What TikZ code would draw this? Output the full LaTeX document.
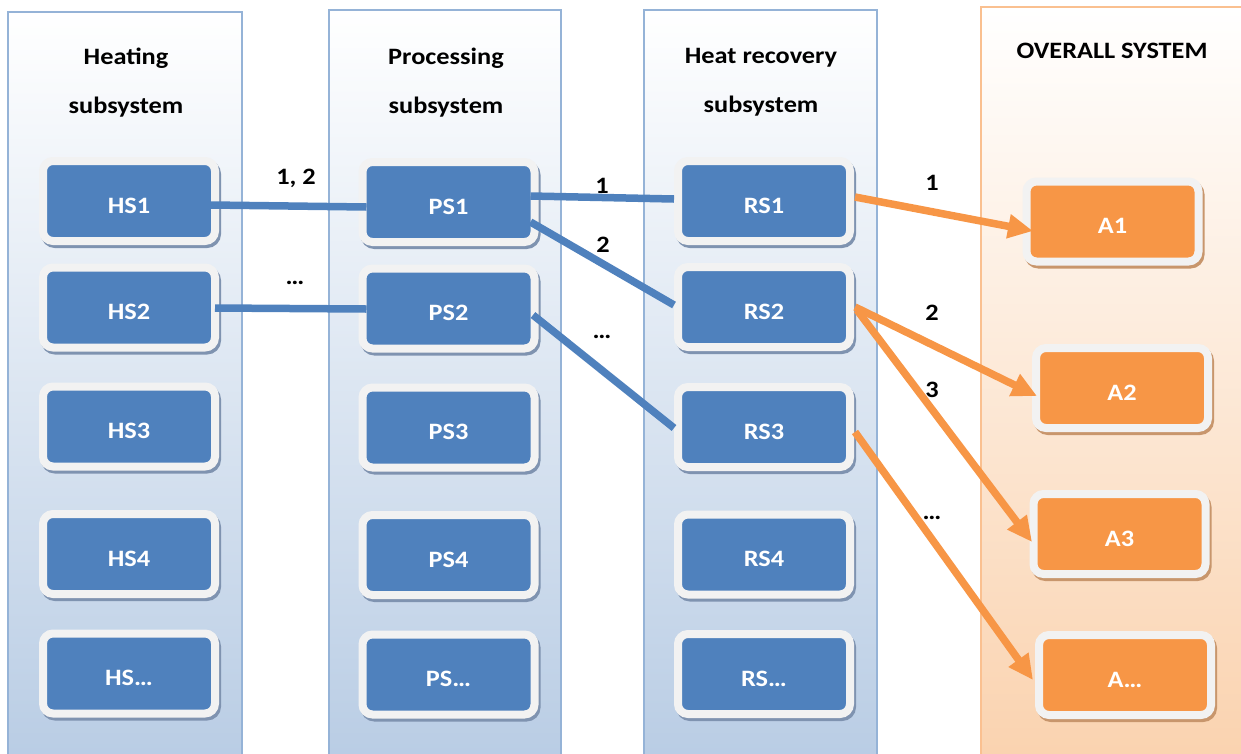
\documentclass[tikz,border=0pt]{standalone}
\usepackage{fontspec}
\setmainfont{Carlito}[FakeStretch=1.12]
\usetikzlibrary{arrows.meta}

\definecolor{colline}{HTML}{95B3D7}
\definecolor{colbot}{HTML}{B8CCE4}
\definecolor{ocolline}{HTML}{FAC090}
\definecolor{ocolbot}{HTML}{FAD2AE}
\definecolor{boxblue}{HTML}{4F81BD}
\definecolor{boxorange}{HTML}{F79646}
\definecolor{rim}{HTML}{F2F2F2}
\definecolor{shblue}{HTML}{7F93B0}
\definecolor{shorange}{HTML}{C8966C}

\newcommand\lbl{\fontsize{23.5}{27}\selectfont\bfseries}
\newcommand\hdr{\fontsize{23.5}{49}\selectfont\bfseries}

\tikzset{
  column/.style={draw=colline, line width=1.5pt, top color=white, bottom color=colbot},
  ocolumn/.style={draw=ocolline, line width=2pt, top color=white, bottom color=ocolbot},
  blk/.style={rectangle, rounded corners=10pt, line width=8pt, draw=rim,
    minimum width=172pt, minimum height=80pt, outer sep=0pt, inner sep=0pt,
    text=white, font=\lbl, text height=24pt, text depth=0pt,
    preaction={fill=#1, draw=#1, transform canvas={xshift=2pt, yshift=-3pt}}},
  bbox/.style={blk=shblue, fill=boxblue},
  obox/.style={blk=shorange, fill=boxorange},
  head/.style={anchor=north, inner sep=0pt, align=center, font=\hdr},
  tag/.style={anchor=base, inner sep=0pt, font=\lbl},
  bline/.style={draw=boxblue, line width=7.5pt},
  oline/.style={draw=boxorange, line width=7.5pt, -{Triangle[length=25pt,width=23pt]}},
}

\begin{document}
\begin{tikzpicture}[x=1pt, y=-1pt]
\useasboundingbox (0,0) rectangle (1241,753);

% subsystem columns
\path[column] (8,12) rectangle (242,770);
\path[column] (329,10) rectangle (561,770);
\path[column] (644,10) rectangle (877,770);
\path[ocolumn] (981,7) rectangle (1260,770);

% column headings
\node[head] (hHS) at (126,48) {Heating\\subsystem};
\node[head] (hPS) at (446,48) {Processing\\subsystem};
\node[head] (hRS) at (761,48) {Heat recovery\\subsystem};
\node[head] (hA) at (1112,43) {OVERALL SYSTEM};

% heating subsystem
\node[bbox] (hs1) at (129,201) {HS1};
\node[bbox] (hs2) at (129,307.5) {HS2};
\node[bbox] (hs3) at (129,426.5) {HS3};
\node[bbox] (hs4) at (129,554) {HS4};
\node[bbox] (hs5) at (129,673.5) {HS…};

% processing subsystem
\node[bbox] (ps1) at (448.5,202) {PS1};
\node[bbox] (ps2) at (448.5,308.5) {PS2};
\node[bbox] (ps3) at (448.5,427.5) {PS3};
\node[bbox] (ps4) at (448.5,555) {PS4};
\node[bbox] (ps5) at (448.5,674.5) {PS…};

% heat recovery subsystem
\node[bbox] (rs1) at (764,201) {RS1};
\node[bbox] (rs2) at (764,307) {RS2};
\node[bbox] (rs3) at (764,427) {RS3};
\node[bbox] (rs4) at (764,554.5) {RS4};
\node[bbox] (rs5) at (764,674) {RS…};

% overall system
\node[obox] (a1) at (1112.5,221.5) {A1};
\node[obox] (a2) at (1122,388) {A2};
\node[obox] (a3) at (1119.5,534) {A3};
\node[obox] (a5) at (1125,675) {A…};

% links between subsystems
\draw[bline] ([xshift=-4pt,yshift=-4pt]hs1.east) -- ([xshift=4pt,yshift=-5pt]ps1.west);
\draw[bline] ([yshift=-0.5pt]hs2.east) -- ([xshift=4pt,yshift=-0.5pt]ps2.west);
\draw[bline] ([xshift=-4pt,yshift=6pt]ps1.east) -- ([xshift=-4pt,yshift=2pt]rs1.west);
\draw[bline] ([xshift=-4pt,yshift=-20pt]ps1.east) -- ([xshift=-4pt,yshift=2pt]rs2.west);
\draw[bline] ([xshift=-1.5pt,yshift=-6.5pt]ps2.east) -- ([xshift=-4pt,yshift=-1pt]rs3.west);

% links to the overall system
\draw[oline] ([xshift=5pt,yshift=4pt]rs1.east) -- ([xshift=6.5pt,yshift=-9.5pt]a1.west);
\draw[oline] ([xshift=5pt]rs2.east) -- ([xshift=1pt,yshift=-8pt]a2.west);
\draw[oline] ([xshift=7pt,yshift=-3pt]rs2.east) -- ([xshift=-1.5pt,yshift=-8pt]a3.west);
\draw[oline] ([xshift=5pt,yshift=-5pt]rs3.east) -- ([xshift=-6pt,yshift=-5pt]a5.west);

% link labels
\node[tag] (t1) at (296,184) {1, 2};
\node[tag] (t2) at (295,284) {…};
\node[tag] (t3) at (602,193) {1};
\node[tag] (t4) at (603,252) {2};
\node[tag] (t5) at (602,338) {…};
\node[tag] (t6) at (932,190) {1};
\node[tag] (t7) at (932,320) {2};
\node[tag] (t8) at (932,397) {3};
\node[tag] (t9) at (932,519) {…};
\end{tikzpicture}
\end{document}
